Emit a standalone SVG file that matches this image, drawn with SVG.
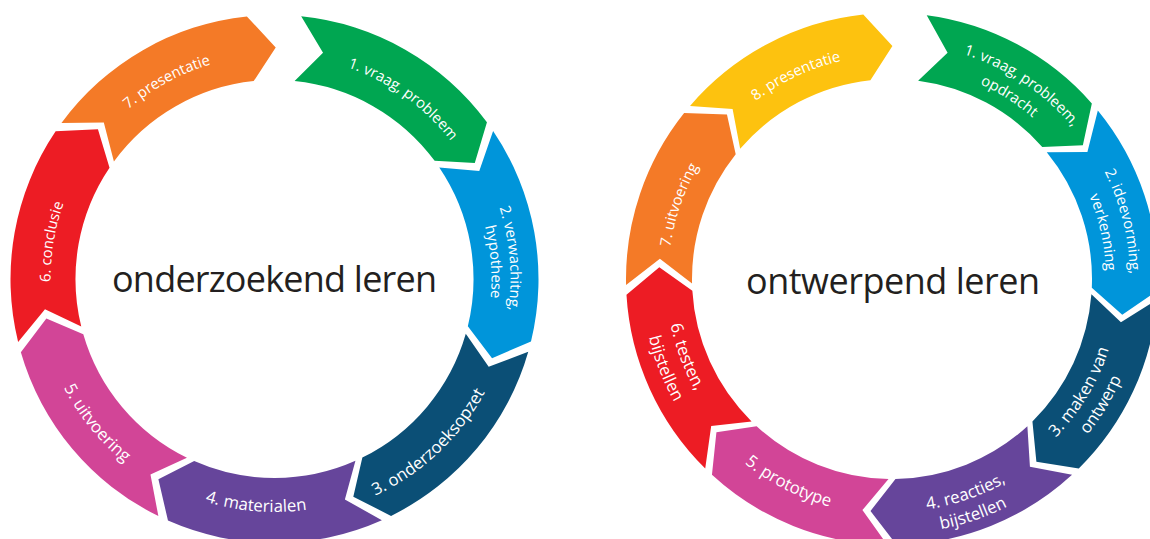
<svg xmlns="http://www.w3.org/2000/svg" width="1150" height="539" viewBox="0 0 1150 539">
<style>
.lbl{font-family:"Open Sans","Noto Sans","Liberation Sans",sans-serif;fill:#ffffff;}
.top{font-size:14.8px;}
.bot{font-size:16.8px;}
.title{font-family:"Open Sans","Noto Sans","Liberation Sans",sans-serif;font-size:36px;fill:#231f20;text-anchor:middle;}
.green{fill:#00a651}.blue{fill:#0095da}.dark{fill:#0b4f76}.purple{fill:#66459b}
.pink{fill:#d24597}.red{fill:#ed1c24}.orange{fill:#f47a27}.yellow{fill:#fdc20f}
</style>
<defs>
<path id="cw214" d="M-185.33,-107 A214,214 0 0 1 185.33,-107"/>
<path id="cw217" d="M-187.93,-108.5 A217,217 0 0 1 187.93,-108.5"/>
<path id="cw224" d="M-193.99,-112 A224,224 0 0 1 193.99,-112"/>
<path id="cw236" d="M-204.38,-118 A236,236 0 0 1 204.38,-118"/>
<path id="cw238" d="M-206.11,-119 A238,238 0 0 1 206.11,-119"/>
<path id="ccw226" d="M-195.72,113 A226,226 0 0 0 195.72,113"/>
<path id="ccw228" d="M-197.45,114 A228,228 0 0 0 197.45,114"/>
<path id="ccw233" d="M-201.78,116.5 A233,233 0 0 0 201.78,116.5"/>
<path id="ccw236" d="M-204.38,118 A236,236 0 0 0 204.38,118"/>
<path id="ccw237" d="M-205.25,118.5 A237,237 0 0 0 205.25,118.5"/>
<path id="ccw239" d="M-206.98,119.5 A239,239 0 0 0 206.98,119.5"/>
<path id="ccw250" d="M-216.51,125 A250,250 0 0 0 216.51,125"/>
<path id="ccw255" d="M-220.84,127.5 A255,255 0 0 0 220.84,127.5"/>
</defs>
<rect width="1150" height="539" fill="#ffffff"/>

<g id="cycle-onderzoekend">
<g id="o1">
<path class="green" d="M301.18,16.35 A264,264 0 0 1 486.95,122.28 L474.78,162.9 L434.64,160.86 A199,199 0 0 0 294.61,81.02 L323.03,52.64 Z"/>
<text class="lbl top" transform="translate(274.5,279) rotate(35.5)"><textPath href="#cw224" startOffset="50%" text-anchor="middle">1. vraag, probleem</textPath></text>
</g>
<g id="o2">
<path class="blue" d="M493.11,130.99 A264,264 0 0 1 530.99,341.53 L492.04,358.18 L467.84,326.13 A199,199 0 0 0 439.28,167.43 L479.28,171.03 Z"/>
<text class="lbl top" transform="translate(274.5,279) rotate(85)"><textPath href="#cw236" startOffset="50%" text-anchor="middle">2. verwachitng,</textPath></text>
<text class="lbl top" transform="translate(274.5,279) rotate(85.5)"><textPath href="#cw217" startOffset="50%" text-anchor="middle">hypothese</textPath></text>
</g>
<g id="o3">
<path class="dark" d="M528.27,351.77 A264,264 0 0 1 391.06,515.88 L353.3,496.68 L362.36,457.55 A199,199 0 0 0 465.79,333.85 L488.69,366.84 Z"/>
<text class="lbl bot" transform="translate(274.5,279) rotate(-43.3)"><textPath href="#ccw239" startOffset="50%" text-anchor="middle">3. onderzoeksopzet</textPath></text>
</g>
<g id="o4">
<path class="purple" d="M381.88,520.18 A264,264 0 0 1 167.96,520.55 L158.4,479.28 L194.19,461.08 A199,199 0 0 0 355.44,460.8 L344.88,499.54 Z"/>
<text class="lbl bot" transform="translate(274.5,279) rotate(4.7)"><textPath href="#ccw233" startOffset="50%" text-anchor="middle">4. materialen</textPath></text>
</g>
<g id="o5">
<path class="pink" d="M158.36,516.08 A264,264 0 0 1 20.85,352.21 L46.38,318.4 L83.3,334.18 A199,199 0 0 0 186.95,457.71 L150.46,474.46 Z"/>
<text class="lbl bot" transform="translate(274.5,279) rotate(51)"><textPath href="#ccw237" startOffset="50%" text-anchor="middle">5. uitvoering</textPath></text>
</g>
<g id="o6">
<path class="red" d="M18.12,341.97 A264,264 0 0 1 55.63,131.37 L97.94,129.27 L109.52,167.72 A199,199 0 0 0 81.25,326.47 L44.98,309.22 Z"/>
<text class="lbl top" transform="translate(274.5,279) rotate(-80.5)"><textPath href="#cw224" startOffset="50%" text-anchor="middle">6. conclusie</textPath></text>
</g>
<g id="o7">
<path class="orange" d="M61.46,123.08 A264,264 0 0 1 246.9,16.45 L275.71,47.5 L253.7,81.09 A199,199 0 0 0 113.92,161.47 L103.82,122.6 Z"/>
<text class="lbl top" transform="translate(274.5,279) rotate(-28.6)"><textPath href="#cw224" startOffset="50%" text-anchor="middle">7. presentatie</textPath></text>
</g>
<g id="o-title">
<text class="title" x="274.5" y="292" textLength="325" lengthAdjust="spacing">onderzoekend leren</text>
</g>
</g>

<g id="cycle-ontwerpend">
<g id="w1">
<path class="green" d="M926.72,15.28 A266,266 0 0 1 1091.84,103.45 L1082.86,145.36 L1042.26,147 A200,200 0 0 0 918.11,80.71 L947.58,52.73 Z"/>
<text class="lbl top" transform="translate(892,279) rotate(33.8)"><textPath href="#cw236" startOffset="50%" text-anchor="middle">1. vraag, probleem,</textPath></text>
<text class="lbl top" transform="translate(892,279) rotate(32.7)"><textPath href="#cw214" startOffset="50%" text-anchor="middle">opdracht</textPath></text>
</g>
<g id="w2">
<path class="blue" d="M1097.84,110.52 A266,266 0 0 1 1157.75,290.6 L1122.26,314.65 L1091.81,287.72 A200,200 0 0 0 1046.77,152.32 L1087.41,152.1 Z"/>
<text class="lbl top" transform="translate(892,279) rotate(76)"><textPath href="#cw238" startOffset="50%" text-anchor="middle">2. ideevorming,</textPath></text>
<text class="lbl top" transform="translate(892,279) rotate(77.5)"><textPath href="#cw214" startOffset="50%" text-anchor="middle">verkenning</textPath></text>
</g>
<g id="w3">
<path class="dark" d="M1157.22,299.41 A266,266 0 0 1 1078.77,468.4 L1036.39,461.87 L1032.43,421.41 A200,200 0 0 0 1091.41,294.34 L1120.95,322.26 Z"/>
<text class="lbl bot" transform="translate(892,279) rotate(-59)"><textPath href="#ccw228" startOffset="50%" text-anchor="middle">3. maken van</textPath></text>
<text class="lbl bot" transform="translate(892,279) rotate(-59)"><textPath href="#ccw250" startOffset="50%" text-anchor="middle">ontwerp</textPath></text>
</g>
<g id="w4">
<path class="purple" d="M1072.05,474.8 A266,266 0 0 1 896.64,544.96 L870.48,511 L895.49,478.97 A200,200 0 0 0 1027.38,426.22 L1029.94,466.78 Z"/>
<text class="lbl bot" transform="translate(892,279) rotate(-19)"><textPath href="#ccw233" startOffset="50%" text-anchor="middle">4. reacties,</textPath></text>
<text class="lbl bot" transform="translate(892,279) rotate(-19)"><textPath href="#ccw255" startOffset="50%" text-anchor="middle">bijstellen</textPath></text>
</g>
<g id="w5">
<path class="pink" d="M887.36,544.96 A266,266 0 0 1 711.95,474.8 L716.42,432.17 L756.62,426.22 A200,200 0 0 0 888.51,478.97 L862.4,510.11 Z"/>
<text class="lbl bot" transform="translate(892,279) rotate(27)"><textPath href="#ccw236" startOffset="50%" text-anchor="middle">5. prototype</textPath></text>
</g>
<g id="w6">
<path class="red" d="M705.23,468.4 A266,266 0 0 1 626.47,294.78 L659.3,267.21 L692.35,290.86 A200,200 0 0 0 751.57,421.41 L711.19,425.95 Z"/>
<text class="lbl bot" transform="translate(892,279) rotate(69.3)"><textPath href="#ccw226" startOffset="50%" text-anchor="middle">6. testen,</textPath></text>
<text class="lbl bot" transform="translate(892,279) rotate(68.5)"><textPath href="#ccw250" startOffset="50%" text-anchor="middle">bijstellen</textPath></text>
</g>
<g id="w7">
<path class="orange" d="M626.07,285.04 A266,266 0 0 1 684.12,113.05 L726.96,114.53 L735.7,154.22 A200,200 0 0 0 692.05,283.54 L659.89,258.69 Z"/>
<text class="lbl top" transform="translate(892,279) rotate(-70.8)"><textPath href="#cw224" startOffset="50%" text-anchor="middle">7. uitvoering</textPath></text>
</g>
<g id="w8">
<path class="yellow" d="M690.03,105.9 A266,266 0 0 1 863.27,14.56 L892.41,46 L870.4,80.17 A200,200 0 0 0 740.15,148.85 L732.6,109.06 Z"/>
<text class="lbl top" transform="translate(892,279) rotate(-25.3)"><textPath href="#cw224" startOffset="50%" text-anchor="middle">8. presentatie</textPath></text>
</g>
<g id="w-title">
<text class="title" x="893" y="294" textLength="294" lengthAdjust="spacing">ontwerpend leren</text>
</g>
</g>

<g id="connectors"></g>
</svg>
